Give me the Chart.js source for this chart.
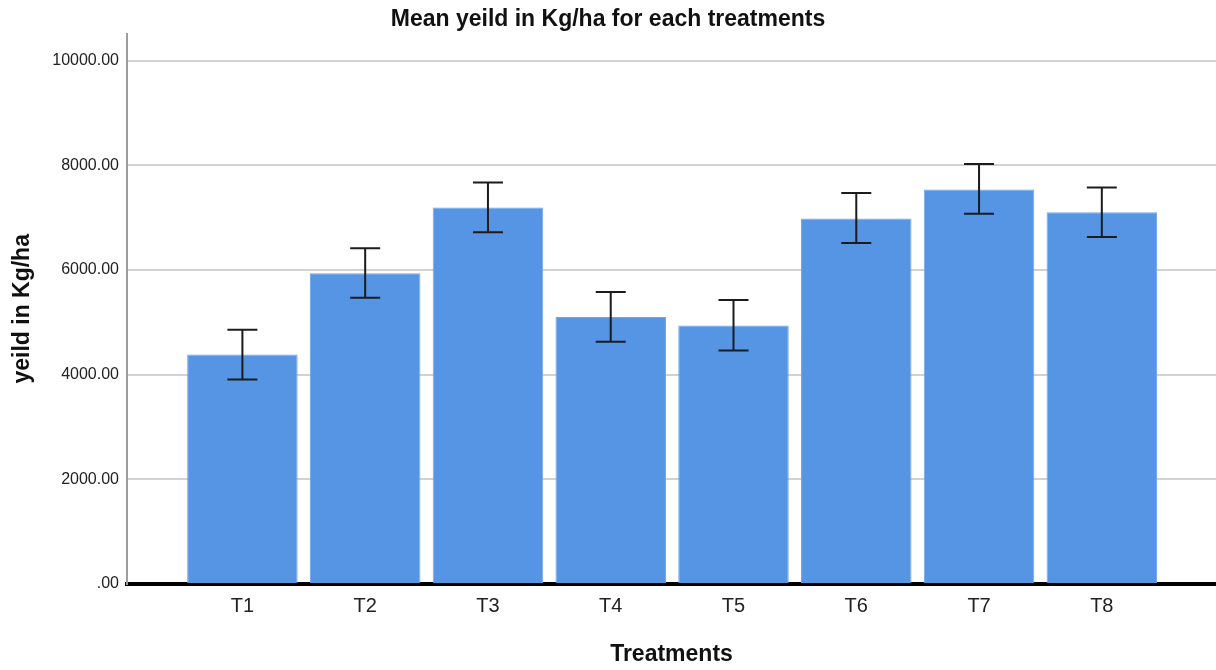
<!DOCTYPE html>
<html>
<head>
<meta charset="utf-8">
<script src="https://cdn.jsdelivr.net/npm/chart.js@4.4.1/dist/chart.umd.min.js"></script>
<style>
  html, body { margin: 0; padding: 0; background: #ffffff; }
  #wrap { width: 1216px; height: 670px; }
</style>
</head>
<body>
<div id="wrap"><canvas id="c" width="1216" height="670"></canvas></div>
<script>
const categories = ['T1', 'T2', 'T3', 'T4', 'T5', 'T6', 'T7', 'T8'];
const meanYield = [4387, 5939, 7195, 5102, 4943, 6985, 7540, 7107];
const upperBound = [4858, 6418, 7674, 5580, 5427, 7471, 8027, 7579];
const lowerBound = [3908, 5471, 6724, 4628, 4465, 6519, 7075, 6634];
const yTickValues = [0, 2000, 4000, 6000, 8000, 10000];
const yTickLabels = ['.00', '2000.00', '4000.00', '6000.00', '8000.00', '10000.00'];

const FONT = "'Liberation Sans', Arial, sans-serif";

const errorBars = {
  id: 'errorBars',
  afterDatasetsDraw(chart) {
    const ctx = chart.ctx;
    const xs = chart.scales.x, ys = chart.scales.y;
    ctx.save();
    ctx.strokeStyle = '#1c1c1c';
    ctx.lineWidth = 2;
    const half = 15;
    categories.forEach((c, i) => {
      const x = xs.getPixelForValue(i + 1);
      const yU = ys.getPixelForValue(upperBound[i]);
      const yL = ys.getPixelForValue(lowerBound[i]);
      ctx.beginPath();
      ctx.moveTo(x, yU); ctx.lineTo(x, yL);
      ctx.moveTo(x - half, yU); ctx.lineTo(x + half, yU);
      ctx.moveTo(x - half, yL); ctx.lineTo(x + half, yL);
      ctx.stroke();
    });
    ctx.restore();
  }
};

new Chart(document.getElementById('c'), {
  type: 'bar',
  data: {
    datasets: [{
      data: categories.map((c, i) => ({ x: i + 1, y: meanYield[i] })),
      backgroundColor: '#5595e4',
      borderColor: '#6fa6ea',
      borderWidth: 1,
      barPercentage: 0.9,
      categoryPercentage: 1.0
    }]
  },
  options: {
    responsive: false,
    animation: false,
    devicePixelRatio: 1,
    layout: { padding: { left: 0, right: 0, top: 0, bottom: 0 } },
    plugins: {
      legend: { display: false },
      tooltip: { enabled: false },
      title: {
        display: true,
        text: 'Mean yeild in Kg/ha for each treatments',
        color: '#111',
        font: { family: FONT, size: 23, weight: 'bold' },
        padding: { top: 6, bottom: 0 }
      }
    },
    scales: {
      x: {
        type: 'linear',
        min: 0.06,
        max: 8.93,
        offset: false,
        z: 1,
        grid: { display: false, drawTicks: false },
        border: { display: true, color: '#000000', width: 4 },
        afterBuildTicks: (scale) => { scale.ticks = categories.map((c, i) => ({ value: i + 1 })); },
        afterFit: (scale) => { scale.height = 86; },
        ticks: {
          autoSkip: false,
          maxRotation: 0,
          padding: 10,
          color: '#222',
          font: { family: FONT, size: 20 },
          callback: (v) => categories[Math.round(v) - 1] ?? ''
        },
        title: {
          display: true,
          text: 'Treatments',
          color: '#111',
          font: { family: FONT, size: 23, weight: 'bold' },
          padding: { top: 0, bottom: 2 }
        }
      },
      y: {
        type: 'linear',
        min: 0,
        max: 10520,
        grid: { color: '#d2d2d2', lineWidth: 2, drawTicks: false },
        border: { display: true, color: '#9c9c9c', width: 2 },
        afterBuildTicks: (scale) => { scale.ticks = yTickValues.map(v => ({ value: v })); },
        afterFit: (scale) => { scale.width = 127; },
        ticks: {
          padding: 8,
          color: '#222',
          font: { family: FONT, size: 16 },
          callback: (v) => { const k = yTickValues.indexOf(v); return k >= 0 ? yTickLabels[k] : ''; }
        },
        title: {
          display: true,
          text: 'yeild in Kg/ha',
          color: '#111',
          font: { family: FONT, size: 23, weight: 'bold' },
          padding: { top: 9, bottom: 0 }
        }
      }
    }
  },
  plugins: [errorBars]
});
</script>
</body>
</html>
